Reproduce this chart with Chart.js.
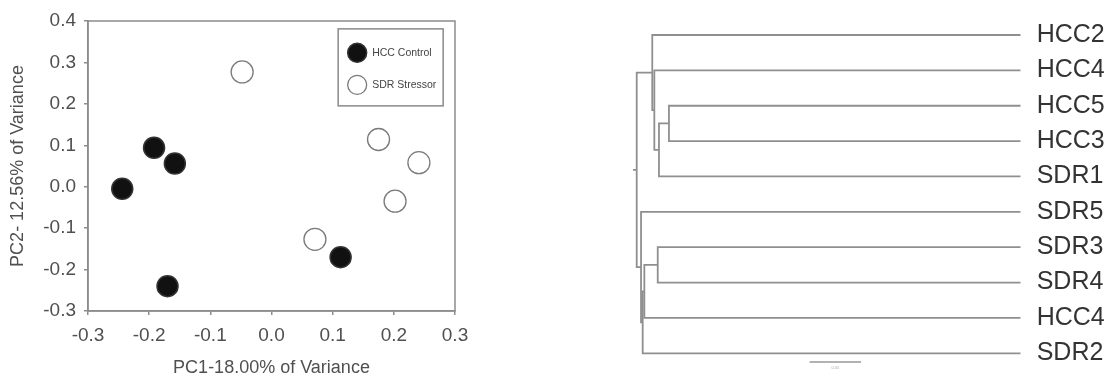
<!DOCTYPE html>
<html>
<head>
<meta charset="utf-8">
<script src="https://cdn.jsdelivr.net/npm/chart.js@4.4.0/dist/chart.umd.min.js"></script>
<style>
  html, body { margin: 0; padding: 0; background: #fff; }
  #wrap { position: relative; width: 1114px; height: 379px; overflow: hidden; }
  #pca { position: absolute; left: 0; top: 0; }
  #tree { position: absolute; left: 600px; top: 0; }
</style>
</head>
<body>
<div id="wrap">
  <canvas id="pca" width="480" height="379"></canvas>
  <canvas id="tree" width="514" height="379"></canvas>
</div>
<script>
// PCA scores
const groupNames = ['HCC Control', 'SDR Stressor'];
const hccPC1 = [-0.244, -0.192, -0.158, -0.170, 0.113];
const hccPC2 = [-0.005, 0.094, 0.056, -0.240, -0.170];
const sdrPC1 = [-0.048, 0.175, 0.241, 0.202, 0.071];
const sdrPC2 = [0.277, 0.114, 0.058, -0.035, -0.127];
const pc1Ticks = [-0.3, -0.2, -0.1, 0.0, 0.1, 0.2, 0.3];
const pc2Ticks = [-0.3, -0.2, -0.1, 0.0, 0.1, 0.2, 0.3, 0.4];
const pc1Title = 'PC1-18.00% of Variance';
const pc2Title = 'PC2- 12.56% of Variance';

// dendrogram: leaves top to bottom, merges as node ids (leaves 0-9, merges 10+)
const leafLabels = ['HCC2', 'HCC4', 'HCC5', 'HCC3', 'SDR1', 'SDR5', 'SDR3', 'SDR4', 'HCC4', 'SDR2'];
const mergeA = [2, 10, 1, 0, 6, 14, 15, 5, 13];
const mergeB = [3, 4, 11, 12, 7, 8, 9, 16, 17];
const mergeHeight = [0.3415, 0.3512, 0.3557, 0.3577, 0.3524, 0.3654, 0.3670, 0.3686, 0.3728];
const rootStub = 0.3764;
const scaleBar = { start: 0.155, length: 0.05, label: '0.05' };

const FONT = "'Liberation Sans', Arial, sans-serif";
const TEXT = '#505050';
const FRAME = '#8c8c8c';

const toPts = (xs, ys) => xs.map((x, i) => ({ x: x, y: ys[i] }));

const pcaLegend = {
  id: 'pcaLegend',
  afterDraw(chart) {
    const ctx = chart.ctx;
    const xs = chart.scales.x, ys = chart.scales.y;
    ctx.save();
    // frame around plot
    const a = chart.chartArea;
    ctx.strokeStyle = FRAME;
    ctx.lineWidth = 1.5;
    ctx.strokeRect(a.left, a.top, a.right - a.left, a.bottom - a.top);
    // legend box
    const bx = xs.getPixelForValue(0.109), by = ys.getPixelForValue(0.381);
    const bw = 105, bh = 77;
    ctx.strokeStyle = '#8a8a8a';
    ctx.lineWidth = 1.5;
    ctx.strokeRect(bx, by, bw, bh);
    chart.data.datasets.forEach((ds, i) => {
      const cy = by + 24 + i * 32;
      ctx.beginPath();
      ctx.arc(bx + 19, cy, 9.5, 0, Math.PI * 2);
      ctx.fillStyle = ds.backgroundColor;
      ctx.fill();
      ctx.lineWidth = ds.borderWidth;
      ctx.strokeStyle = ds.borderColor;
      ctx.stroke();
      ctx.fillStyle = '#444';
      ctx.font = '10.5px ' + FONT;
      ctx.textBaseline = 'middle';
      ctx.fillText(ds.label, bx + 34, cy);
    });
    ctx.restore();
  }
};

new Chart(document.getElementById('pca'), {
  type: 'scatter',
  data: {
    datasets: [
      { label: groupNames[0], data: toPts(hccPC1, hccPC2), backgroundColor: '#111', borderColor: '#333', borderWidth: 1.5, pointRadius: 10.5 },
      { label: groupNames[1], data: toPts(sdrPC1, sdrPC2), backgroundColor: '#fff', borderColor: '#7a7a7a', borderWidth: 1.3, pointRadius: 11 }
    ]
  },
  options: {
    responsive: false,
    devicePixelRatio: 1,
    animation: false,
    layout: { padding: { top: 21, right: 25, left: 0, bottom: 0 } },
    plugins: { legend: { display: false }, tooltip: { enabled: false } },
    scales: {
      x: {
        type: 'linear', min: -0.3, max: 0.3,
        afterBuildTicks: s => { s.ticks = pc1Ticks.map(v => ({ value: v })); },
        afterFit: s => { s.height = 68; },
        grid: { drawOnChartArea: false, drawTicks: true, tickLength: 4, color: FRAME, lineWidth: 1.5 },
        border: { display: true, color: FRAME, width: 1.5 },
        ticks: { padding: 9, color: TEXT, font: { family: FONT, size: 19 }, callback: v => v.toFixed(1) },
        title: { display: true, text: pc1Title, color: TEXT, font: { family: FONT, size: 18 }, padding: { top: 0, bottom: 0 } }
      },
      y: {
        type: 'linear', min: -0.3, max: 0.4,
        afterBuildTicks: s => { s.ticks = pc2Ticks.map(v => ({ value: v })); },
        afterFit: s => { s.width = 88; },
        grid: { drawOnChartArea: false, drawTicks: true, tickLength: 4, color: FRAME, lineWidth: 1.5 },
        border: { display: true, color: FRAME, width: 1.5 },
        ticks: { padding: 8, color: TEXT, font: { family: FONT, size: 19 }, callback: v => v.toFixed(1) },
        title: { display: true, text: pc2Title, color: TEXT, font: { family: FONT, size: 18 }, padding: { top: 7, bottom: 0 } }
      }
    }
  },
  plugins: [pcaLegend]
});

// build dendrogram elbows from the merge table
const nodeH = leafLabels.map(() => 0).concat(mergeHeight);
const nodeY = leafLabels.map((_, i) => i);
mergeA.forEach((a, k) => { nodeY.push((nodeY[a] + nodeY[mergeB[k]]) / 2); });
const rootId = nodeY.length - 1;

const treeSets = mergeA.map((a, k) => {
  const b = mergeB[k], id = leafLabels.length + k;
  return {
    data: [
      { x: nodeH[a], y: nodeY[a] },
      { x: nodeH[id], y: nodeY[a] },
      { x: nodeH[id], y: nodeY[b] },
      { x: nodeH[b], y: nodeY[b] }
    ],
    showLine: true, borderColor: '#8f8f8f', borderWidth: 1.8, pointRadius: 0, fill: false
  };
});
treeSets.push({
  data: [{ x: nodeH[rootId], y: nodeY[rootId] }, { x: rootStub, y: nodeY[rootId] }],
  showLine: true, borderColor: '#8f8f8f', borderWidth: 1.8, pointRadius: 0
});

const scaleBarPlugin = {
  id: 'scaleBar',
  afterDraw(chart) {
    const ctx = chart.ctx, xs = chart.scales.x;
    const x0 = xs.getPixelForValue(scaleBar.start + scaleBar.length);
    const x1 = xs.getPixelForValue(scaleBar.start);
    const y = chart.chartArea.bottom - 9;
    ctx.save();
    ctx.strokeStyle = '#999';
    ctx.lineWidth = 1.3;
    ctx.beginPath();
    ctx.moveTo(x0, y);
    ctx.lineTo(x1, y);
    ctx.stroke();
    ctx.fillStyle = '#aaa';
    ctx.font = '4px ' + FONT;
    ctx.textAlign = 'center';
    ctx.textBaseline = 'middle';
    ctx.fillText(scaleBar.label, (x0 + x1) / 2, y + 6);
    ctx.restore();
  }
};

new Chart(document.getElementById('tree'), {
  type: 'scatter',
  data: { datasets: treeSets },
  options: {
    responsive: false,
    devicePixelRatio: 1,
    animation: false,
    layout: { padding: { top: 17.3, right: 0, left: 8.7, bottom: 8 } },
    plugins: { legend: { display: false }, tooltip: { enabled: false } },
    scales: {
      x: { type: 'linear', min: 0, max: 0.4, reverse: true, display: false },
      y: {
        type: 'linear', position: 'right', min: -0.5, max: 9.5, reverse: true,
        afterBuildTicks: s => { s.ticks = leafLabels.map((_, i) => ({ value: i })); },
        afterFit: s => { s.width = 93.3; },
        grid: { display: false, drawTicks: true, tickLength: 16 },
        border: { display: false },
        ticks: { padding: 0, color: '#333', font: { family: FONT, size: 25, lineHeight: 0.5 }, callback: v => leafLabels[v] }
      }
    }
  },
  plugins: [scaleBarPlugin]
});
</script>
</body>
</html>
